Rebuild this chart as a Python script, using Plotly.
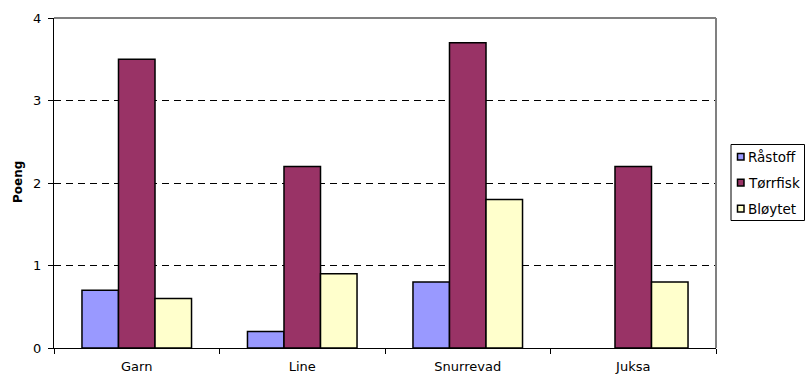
import plotly.graph_objects as go

categories = ["Garn", "Line", "Snurrevad", "Juksa"]
raastoff = [0.7, 0.2, 0.8, None]
toerrfisk = [3.5, 2.2, 3.7, 2.2]
bloeytet = [0.6, 0.9, 1.8, 0.8]
y_ticks = [0, 1, 2, 3, 4]

series_names = ["Råstoff", "Tørrfisk", "Bløytet"]
series_values = [raastoff, toerrfisk, bloeytet]
series_colors = ["#9999FF", "#993366", "#FFFFCC"]

W, H = 806, 376
M_L, M_R, M_T, M_B = 54, 90, 18, 28
PW, PH = W - M_L - M_R, H - M_T - M_B

FAMILY = "DejaVu Sans, Verdana, sans-serif"
font = dict(family=FAMILY, size=13, color="black")

fig = go.Figure()
for name, vals, color in zip(series_names, series_values, series_colors):
    fig.add_trace(go.Bar(
        x=categories, y=vals, name=name,
        marker=dict(color=color, line=dict(color="black", width=1.5)),
    ))

fig.update_layout(
    width=W, height=H,
    margin=dict(l=M_L, r=M_R, t=M_T, b=M_B),
    paper_bgcolor="white", plot_bgcolor="white",
    font=font,
    barmode="group", bargap=0.338, bargroupgap=0,
    showlegend=False,
    xaxis=dict(
        type="category", showline=True, linecolor="black", linewidth=1,
        ticks="outside", ticklen=5, tickcolor="black", tickson="boundaries",
        showgrid=False, tickfont=font, ticklabelstandoff=6, automargin=False,
    ),
    yaxis=dict(
        range=[0, 4], tickvals=y_ticks, showline=True, linecolor="black",
        linewidth=1, ticks="outside", ticklen=5, tickcolor="black",
        showgrid=True, gridcolor="black", gridwidth=1, griddash="7px,5px",
        zeroline=False, tickfont=font, ticklabelstandoff=4, automargin=False,
    ),
)


def px_x(px):
    return (px - M_L) / PW


def px_y(py):
    return (H - M_B - py) / PH


# y-axis title
fig.add_annotation(
    text="<b>Poeng</b>", textangle=-90, showarrow=False,
    xref="paper", yref="paper", x=px_x(18), y=px_y(182),
    xanchor="center", yanchor="middle",
    font=dict(family=FAMILY, size=12, color="black"),
)

# grey frame on the top and right edges of the plot area
fig.add_shape(type="line", xref="paper", yref="paper", x0=0, x1=1, y0=1, y1=1,
              line=dict(color="#808080", width=2))
fig.add_shape(type="line", xref="paper", yref="paper", x0=1, x1=1, y0=0, y1=1,
              line=dict(color="#808080", width=2))

# legend box with swatches
fig.add_shape(type="rect", xref="paper", yref="paper",
              x0=px_x(731), x1=px_x(804.5), y0=px_y(144.5), y1=px_y(220.5),
              line=dict(color="black", width=1), fillcolor="white")
row_centers = [156.7, 182.6, 208.6]
for name, color, cy in zip(series_names, series_colors, row_centers):
    fig.add_shape(type="rect", xref="paper", yref="paper",
                  x0=px_x(737.5), x1=px_x(744), y0=px_y(cy - 3.3), y1=px_y(cy + 3.3),
                  line=dict(color="black", width=1.5), fillcolor=color)
    fig.add_annotation(text=name, showarrow=False, xref="paper", yref="paper",
                       x=px_x(745.5), y=px_y(cy), xanchor="left", yanchor="middle",
                       font=dict(family=FAMILY, size=13.5, color="black"))

fig.write_html("out.html")
